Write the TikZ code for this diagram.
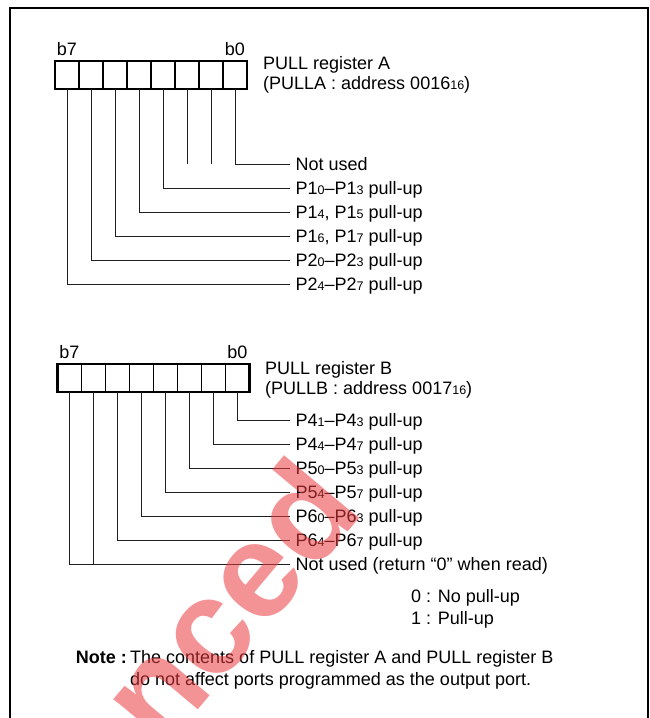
\documentclass[tikz,border=0pt]{standalone}
\usepackage{fontspec}
\setmainfont{Liberation Sans}
\usetikzlibrary{positioning}
\definecolor{regInk}{HTML}{000000}
\definecolor{leadInk}{HTML}{1E1E1E}
\definecolor{markRed}{HTML}{EA3A3F}
\newcommand{\lowdig}[1]{{\fontsize{12.5}{12.5}\selectfont #1}}
\newcommand{\txtsize}{\fontsize{18}{19.5}\selectfont}
\tikzset{
  regcell/.style={rectangle, draw=regInk, line width=1.1pt, minimum width=24pt,
                  minimum height=28pt, inner sep=0pt, outer sep=0pt},
  regbox/.style={draw=regInk, line width=2.2pt},
  lead/.style={draw=leadInk, line width=0.9pt},
  bitname/.style={inner sep=0pt, font=\txtsize},
  portname/.style={anchor=west, inner xsep=5.5pt, inner ysep=0pt,
                   text height=12.9pt, text depth=0pt, font=\txtsize},
  keyname/.style={portname, inner xsep=0pt},
  regname/.style={anchor=north west, align=left, inner sep=0pt, font=\txtsize},
}

\begin{document}
\begin{tikzpicture}[x=1pt, y=-1pt]
  \useasboundingbox (0,0) rectangle (650,718);
  % frame, open at the bottom
  \draw[regInk, line width=2pt] (10,740) -- (10,8) -- (648,8) -- (648,740);

  % PULL register A
  \foreach \b [count=\i from 0] in {7,6,...,0}
    \node[regcell] (ra\b) at ({67+24*\i},75) {};
  \draw[regbox] (ra7.north west) rectangle (ra0.south east);
  \node[bitname, above=5pt of ra7] (ra7n) {b7};
  \node[bitname, above=5pt of ra0] (ra0n) {b0};
  \node[regname] (regA) at (263,56.3) {PULL register A\\(PULLA : address 0016\lowdig{16})};

  \node[portname] (aNU)  at (290,164) {Not used};
  \node[portname] (aP10) at (290,188) {P1\lowdig{0}--P1\lowdig{3} pull-up};
  \node[portname] (aP14) at (290,212) {P1\lowdig{4}, P1\lowdig{5} pull-up};
  \node[portname] (aP16) at (290,236) {P1\lowdig{6}, P1\lowdig{7} pull-up};
  \node[portname] (aP20) at (290,260) {P2\lowdig{0}--P2\lowdig{3} pull-up};
  \node[portname] (aP24) at (290,284) {P2\lowdig{4}--P2\lowdig{7} pull-up};

  \draw[lead] (ra0.south) |- (aNU.west);
  \draw[lead] (ra1.south) -- (ra1.south |- aNU.west);
  \draw[lead] (ra2.south) -- (ra2.south |- aNU.west);
  \draw[lead] (ra3.south) |- (aP10.west); \draw[lead] (ra4.south) |- (aP14.west);
  \draw[lead] (ra5.south) |- (aP16.west); \draw[lead] (ra6.south) |- (aP20.west);
  \draw[lead] (ra7.south) |- (aP24.west);

  % PULL register B
  \foreach \b [count=\i from 0] in {7,6,...,0}
    \node[regcell] (rb\b) at ({69.5+24*\i},378) {};
  \draw[regbox] (rb7.north west) rectangle (rb0.south east);
  \node[bitname, above=5pt of rb7] (rb7n) {b7};
  \node[bitname, above=5pt of rb0] (rb0n) {b0};
  \node[regname] (regB) at (265,361.3) {PULL register B\\(PULLB : address 0017\lowdig{16})};

  \node[portname] (bP41) at (290,420) {P4\lowdig{1}--P4\lowdig{3} pull-up};
  \node[portname] (bP44) at (290,444) {P4\lowdig{4}--P4\lowdig{7} pull-up};
  \node[portname] (bP50) at (290,468) {P5\lowdig{0}--P5\lowdig{3} pull-up};
  \node[portname] (bP54) at (290,492) {P5\lowdig{4}--P5\lowdig{7} pull-up};
  \node[portname] (bP60) at (290,516) {P6\lowdig{0}--P6\lowdig{3} pull-up};
  \node[portname] (bP64) at (290,540) {P6\lowdig{4}--P6\lowdig{7} pull-up};
  \node[portname] (bNU)  at (290,564) {Not used (return ``0'' when read)};

  \draw[lead] (rb0.south) |- (bP41.west); \draw[lead] (rb1.south) |- (bP44.west);
  \draw[lead] (rb2.south) |- (bP50.west); \draw[lead] (rb3.south) |- (bP54.west);
  \draw[lead] (rb4.south) |- (bP60.west); \draw[lead] (rb5.south) |- (bP64.west);
  \draw[lead] (rb7.south) |- (bNU.west);
  \draw[lead] (rb6.south) -- (rb6.south |- bNU.west);

  % key and note
  \node[keyname] (key0) at (411,596) {0 : No pull-up};
  \node[keyname] (key1) at (411,618) {1 : Pull-up};
  \node[inner sep=0pt, anchor=base east, font=\txtsize\bfseries] (noteHd) at (127,663.5) {Note :};
  \node[regname, font=\fontsize{18}{22}\selectfont] (noteTx) at (130,650.4)
    {The contents of PULL register A and PULL register B\\do not affect ports programmed as the output port.};

  % watermark
  \node[rotate=50, text=markRed, opacity=0.55, inner sep=0pt,
        font=\fontsize{135}{135}\selectfont\bfseries] (mark) at (227,601) {nced};
\end{tikzpicture}
\end{document}
